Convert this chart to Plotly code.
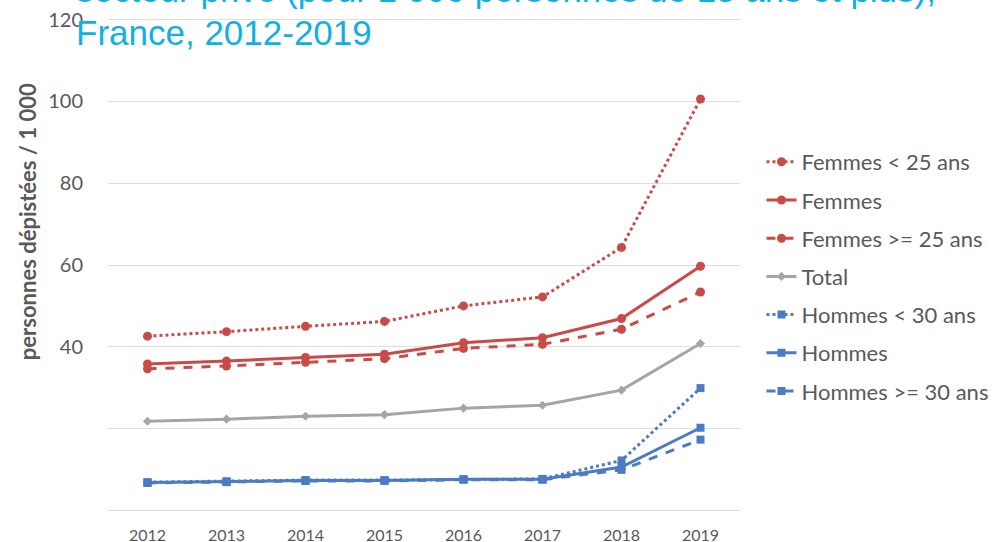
import plotly.graph_objects as go

years = ["2012", "2013", "2014", "2015", "2016", "2017", "2018", "2019"]

femmes_moins25 = [42.6, 43.7, 45.0, 46.2, 50.0, 52.2, 64.3, 100.6]
femmes = [35.8, 36.5, 37.4, 38.2, 41.0, 42.2, 46.9, 59.7]
femmes_plus25 = [34.6, 35.3, 36.2, 37.1, 39.6, 40.6, 44.3, 53.4]
total = [21.8, 22.3, 23.0, 23.4, 25.0, 25.7, 29.4, 40.8]
hommes_moins30 = [6.9, 7.1, 7.4, 7.4, 7.6, 7.7, 12.2, 29.9]
hommes = [6.8, 7.0, 7.3, 7.3, 7.6, 7.6, 10.6, 20.2]
hommes_plus30 = [6.7, 6.9, 7.2, 7.2, 7.5, 7.5, 9.9, 17.3]

y_tickvals = [0, 20, 40, 60, 80, 100, 120]
y_ticktext = ["", "", "40", "60", "80", "100", "120"]

title_line1 = "secteur privé (pour 1 000 personnes de 15 ans et plus),"
title_line2 = "France, 2012-2019"
y_title = "personnes dépistées / 1 000"

RED = "#C94B47"
BLUE = "#4A7BC4"
GRAY = "#A5A5A5"
TXT = "#595959"

x = list(range(len(years)))

series = [
    ("Femmes < 25 ans", femmes_moins25, RED, "dot", "circle", 9),
    ("Femmes", femmes, RED, "solid", "circle", 9),
    ("Femmes >= 25 ans", femmes_plus25, RED, "dash", "circle", 9),
    ("Total", total, GRAY, "solid", "diamond", 7),
    ("Hommes < 30 ans", hommes_moins30, BLUE, "dot", "square", 8),
    ("Hommes", hommes, BLUE, "solid", "square", 8),
    ("Hommes >= 30 ans", hommes_plus30, BLUE, "dash", "square", 8),
]

fig = go.Figure()
for i, (name, vals, col, dash, sym, sz) in enumerate(series):
    fig.add_trace(go.Scatter(
        x=x, y=vals, name=name, mode="lines+markers",
        line=dict(color=col, width=3, dash=dash),
        marker=dict(color=col, symbol=sym, size=sz),
        legendgroup=f"g{i}",
    ))

# plot area: x 108..740, y range slightly padded so the 0 and 120 gridlines are drawn
PAD = 0.4
PXU = 490 / 120.0
fig.update_layout(
    width=996, height=542,
    margin=dict(l=108, r=256, t=20 - PAD * PXU, b=32 - PAD * PXU, autoexpand=False),
    paper_bgcolor="white", plot_bgcolor="white",
    font=dict(family="Lato", color=TXT),
    showlegend=True,
    legend=dict(
        x=1.034, xanchor="left", y=0.751, yanchor="top",
        font=dict(family="Lato", size=22, color=TXT),
        traceorder="grouped", tracegroupgap=6.6,
        bgcolor="rgba(0,0,0,0)",
    ),
    xaxis=dict(
        range=[-0.5, 7.5], tickmode="array", tickvals=x, ticktext=years,
        showgrid=False, zeroline=False, showline=False,
        ticks="outside", ticklen=9, tickcolor="rgba(0,0,0,0)",
        tickfont=dict(family="Lato", size=16, color=TXT),
    ),
    yaxis=dict(
        range=[-PAD, 120 + PAD], tickmode="array", tickvals=y_tickvals, ticktext=y_ticktext,
        showgrid=True, gridcolor="#DEDEDE", gridwidth=1,
        zeroline=False, showline=False,
        ticks="outside", ticklen=20, tickcolor="rgba(0,0,0,0)",
        ticklabeloverflow="allow",
        tickfont=dict(family="Lato", size=20, color=TXT),
    ),
    annotations=[
        dict(text=title_line1, xref="paper", yref="paper", x=-0.054, y=1.0578,
             xanchor="left", yanchor="middle", showarrow=False,
             font=dict(family="Liberation Sans", size=35, color="#11B0E3")),
        dict(text=title_line2, xref="paper", yref="paper", x=-0.054, y=0.9706,
             xanchor="left", yanchor="middle", showarrow=False,
             font=dict(family="Liberation Sans", size=35, color="#11B0E3")),
        dict(text="<b>" + y_title + "</b>", xref="paper", yref="paper", x=-0.128, y=0.587,
             xanchor="center", yanchor="middle", textangle=-90, showarrow=False,
             font=dict(family="Lato", size=22, color=TXT)),
    ],
)

fig.write_html("out.html", config={"displayModeBar": False},
               post_script="document.body.style.margin='0';")
